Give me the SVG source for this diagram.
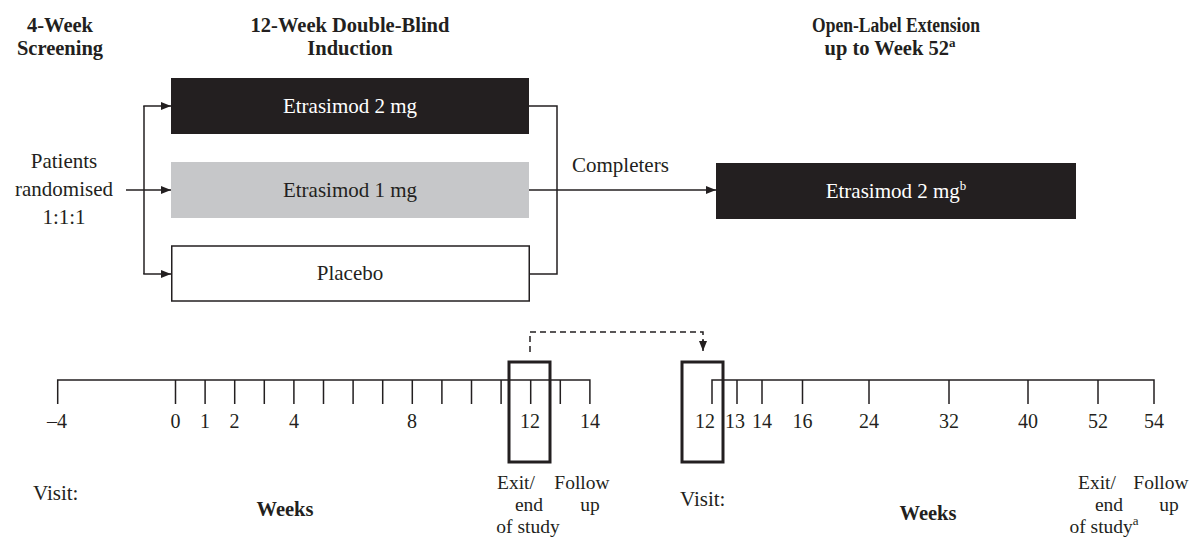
<svg xmlns="http://www.w3.org/2000/svg" width="1194" height="543" viewBox="0 0 1194 543">
<defs>
<marker id="arr" viewBox="0 0 10 8" refX="10" refY="4" markerWidth="10" markerHeight="8" markerUnits="userSpaceOnUse" orient="auto"><path d="M0,0 L10,4 L0,8 z" fill="#231f20"/></marker>
</defs>
<style>
text{font-family:"Liberation Serif","Times New Roman",serif;font-size:21px;fill:#231f20}
.h{font-weight:bold;font-size:20.5px}
.c{text-anchor:middle}
.w{fill:#ffffff}
.n{font-size:20px}
.s{font-size:19.5px}
.ln{stroke:#231f20;stroke-width:1.5;fill:none}
.dash{stroke:#231f20;stroke-width:1.5;fill:none;stroke-dasharray:6 4}
.vbox{fill:none;stroke:#231f20;stroke-width:3}
.sup{font-size:13px}
</style>
<rect width="1194" height="543" fill="#ffffff"/>

<g id="hdr-screening"><text class="h c"><tspan x="60" y="32">4-Week</tspan><tspan x="60" y="55">Screening</tspan></text></g>
<g id="hdr-induction"><text class="h c"><tspan x="350" y="32">12-Week Double-Blind</tspan><tspan x="350" y="55">Induction</tspan></text></g>
<g id="hdr-ole"><text class="h c"><tspan x="896" y="32" textLength="168" lengthAdjust="spacingAndGlyphs">Open-Label Extension</tspan><tspan x="890" y="55">up to Week 52</tspan><tspan class="sup" dy="-8">a</tspan></text></g>

<g id="patients"><text class="c"><tspan x="64" y="168">Patients</tspan><tspan x="64" y="196">randomised</tspan><tspan x="64" y="224">1:1:1</tspan></text></g>

<g id="etra2"><rect x="171" y="78" width="358" height="56" fill="#231f20"/><text class="c w" x="350" y="113">Etrasimod 2 mg</text></g>
<g id="etra1"><rect x="171" y="162" width="358" height="56" fill="#c6c7c9"/><text class="c" x="350" y="197">Etrasimod 1 mg</text></g>
<g id="placebo"><rect x="171.75" y="246" width="357.5" height="55" fill="#ffffff" stroke="#231f20" stroke-width="1.5"/><text class="c" x="350" y="280">Placebo</text></g>
<g id="ole"><rect x="716" y="163" width="360" height="56" fill="#231f20"/><text class="c w" x="896" y="198">Etrasimod 2 mg<tspan class="sup" dy="-8">b</tspan></text></g>

<g id="connectors">
<path class="ln" d="M144,106 V274"/>
<line class="ln" x1="143.25" y1="106" x2="171" y2="106" marker-end="url(#arr)"/>
<line class="ln" x1="143.25" y1="274" x2="171" y2="274" marker-end="url(#arr)"/>
<line class="ln" x1="126" y1="190" x2="171" y2="190" marker-end="url(#arr)"/>
<path class="ln" d="M529,106 H557 V274 H529"/>
<line class="ln" x1="529" y1="190" x2="716" y2="190" marker-end="url(#arr)"/>
<text x="572" y="172">Completers</text>
<path class="dash" d="M530,352 V332 H703 V342"/>
<line class="ln" x1="703" y1="340" x2="703" y2="351" marker-end="url(#arr)"/>
</g>

<g id="timeline-induction">
<path class="ln" d="M57.7,404 V380 H589.9 V404"/>
<path class="ln" d="M175.5,380V404 M205.1,380V404 M234.7,380V404 M264.3,380V404 M293.9,380V404 M323.5,380V404 M353.1,380V404 M382.7,380V404 M412.3,380V404 M441.9,380V404 M471.5,380V404 M501.1,380V404 M530.7,380V404 M560.3,380V404"/>
<text class="c n" x="57" y="428">–4</text>
<text class="c n" x="175.5" y="428">0</text>
<text class="c n" x="205" y="428">1</text>
<text class="c n" x="234.5" y="428">2</text>
<text class="c n" x="294" y="428">4</text>
<text class="c n" x="412" y="428">8</text>
<text class="c n" x="530" y="428">12</text>
<text class="c n" x="590" y="428">14</text>
<rect class="vbox" x="509" y="362" width="41" height="100"/>
<text x="33" y="500">Visit:</text>
<text class="h c" x="285" y="516">Weeks</text>
<text class="c s"><tspan x="516" y="489">Exit/</tspan><tspan x="529" y="511">end</tspan><tspan x="528" y="533">of study</tspan></text>
<text class="c s"><tspan x="582" y="489">Follow</tspan><tspan x="590" y="511">up</tspan></text>
</g>

<g id="timeline-ole">
<path class="ln" d="M712,404 V380 H1154 V404"/>
<path class="ln" d="M737,380V404 M762,380V404 M802.5,380V404 M869,380V404 M949,380V404 M1028,380V404 M1098,380V404"/>
<text class="c n" x="705" y="428">12</text>
<text class="c n" x="735" y="428">13</text>
<text class="c n" x="762" y="428">14</text>
<text class="c n" x="802.5" y="428">16</text>
<text class="c n" x="869" y="428">24</text>
<text class="c n" x="949" y="428">32</text>
<text class="c n" x="1028" y="428">40</text>
<text class="c n" x="1098" y="428">52</text>
<text class="c n" x="1154" y="428">54</text>
<rect class="vbox" x="682" y="362" width="41" height="100"/>
<text x="680" y="506">Visit:</text>
<text class="h c" x="928" y="520">Weeks</text>
<text class="c s"><tspan x="1097" y="489">Exit/</tspan><tspan x="1109" y="511">end</tspan><tspan x="1104" y="533">of study</tspan><tspan class="sup" dy="-8">a</tspan></text>
<text class="c s"><tspan x="1161" y="489">Follow</tspan><tspan x="1169" y="511">up</tspan></text>
</g>
</svg>
